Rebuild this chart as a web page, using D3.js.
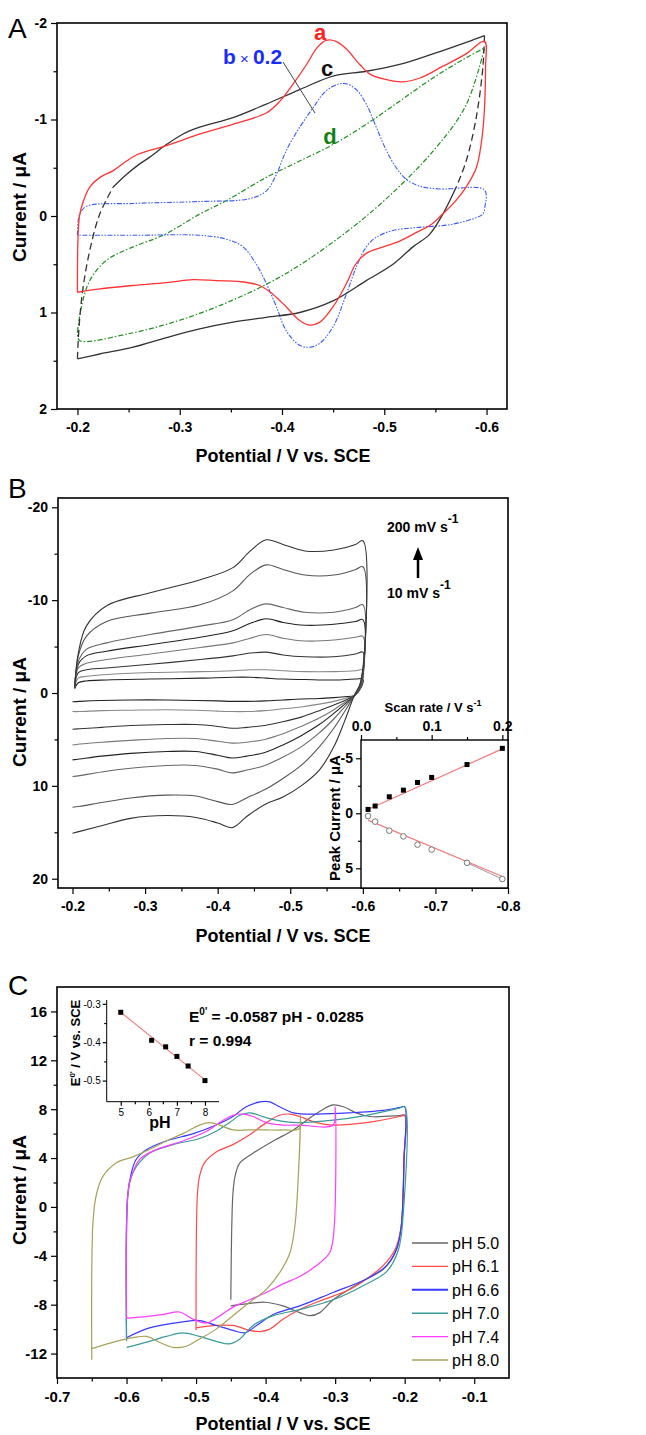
<!DOCTYPE html>
<html>
<head>
<meta charset="utf-8">
<script src="https://cdn.jsdelivr.net/npm/d3@7/dist/d3.min.js"></script>
<style>
  body { margin: 0; background: #fff; }
  svg { font-family: "Liberation Sans", Arial, sans-serif; }
</style>
</head>
<body>
<div id="chart"></div>
<script>
// ---------------- data: panel A (potential V, current uA) ----------------
const curveA = [[-0.2,0.79],[-0.202,0.0],[-0.206,-0.16],[-0.212,-0.3],[-0.222,-0.4],[-0.235,-0.47],[-0.248,-0.57],[-0.259,-0.64],
  [-0.287,-0.73],[-0.32,-0.85],[-0.352,-0.95],[-0.385,-1.07],[-0.398,-1.19],[-0.411,-1.37],[-0.424,-1.57],[-0.434,-1.74],
  [-0.443,-1.82],[-0.453,-1.81],[-0.463,-1.73],[-0.476,-1.57],[-0.486,-1.47],[-0.499,-1.42],[-0.518,-1.39],[-0.535,-1.43],
  [-0.557,-1.55],[-0.58,-1.68],[-0.598,-1.81],[-0.599,-1.54],[-0.596,-0.85],[-0.59,-0.5],[-0.58,-0.3],[-0.57,-0.16],
  [-0.557,-0.02],[-0.547,0.08],[-0.528,0.19],[-0.515,0.26],[-0.499,0.32],[-0.482,0.39],[-0.472,0.5],[-0.463,0.7],
  [-0.45,0.94],[-0.437,1.1],[-0.427,1.13],[-0.417,1.08],[-0.404,0.94],[-0.391,0.81],[-0.378,0.72],[-0.359,0.68],
  [-0.336,0.67],[-0.313,0.66],[-0.287,0.69],[-0.254,0.72],[-0.222,0.755],[-0.2,0.79]];
const curveB = [[-0.2,0.2],[-0.2007,0.05],[-0.2023,-0.02],[-0.2088,-0.1],[-0.2544,-0.13],[-0.3195,-0.15],[-0.3684,-0.18],
  [-0.3847,-0.26],[-0.3945,-0.43],[-0.4042,-0.68],[-0.4173,-0.92],[-0.4303,-1.12],[-0.4433,-1.3],[-0.4564,-1.37],
  [-0.4629,-1.37],[-0.4726,-1.31],[-0.4824,-1.16],[-0.4922,-0.92],[-0.502,-0.68],[-0.5117,-0.5],[-0.5215,-0.38],
  [-0.5345,-0.31],[-0.5541,-0.28],[-0.598,-0.27],[-0.5983,-0.09],[-0.5964,-0.02],[-0.5866,0.03],[-0.5638,0.09],
  [-0.5313,0.12],[-0.5085,0.15],[-0.4922,0.22],[-0.4824,0.32],[-0.4726,0.53],[-0.4629,0.81],[-0.4498,1.15],
  [-0.4368,1.32],[-0.427,1.36],[-0.4173,1.34],[-0.4042,1.19],[-0.3945,0.94],[-0.3847,0.7],[-0.3749,0.5],
  [-0.3619,0.32],[-0.3456,0.24],[-0.3195,0.2],[-0.2544,0.2],[-0.2,0.2]];
const curveC_left = [[-0.2,1.48],[-0.2007,1.3],[-0.2023,1.05],[-0.2055,0.74],[-0.212,0.36],[-0.2218,-0.02],[-0.2349,-0.3]];
const curveC_upper = [[-0.2349,-0.3],[-0.2479,-0.43],[-0.2609,-0.54],[-0.2707,-0.61],[-0.287,-0.74],[-0.3033,-0.85],
  [-0.3195,-0.92],[-0.3521,-1.02],[-0.3847,-1.16],[-0.4173,-1.31],[-0.4498,-1.45],[-0.4824,-1.5],[-0.515,-1.57],
  [-0.5476,-1.68],[-0.5801,-1.8],[-0.598,-1.87]];
const curveC_right = [[-0.598,-1.87],[-0.5964,-1.54],[-0.5899,-1.02],[-0.5801,-0.57],[-0.5704,-0.3]];
const curveC_lower = [[-0.5704,-0.3],[-0.5573,-0.02],[-0.5443,0.19],[-0.528,0.32],[-0.5085,0.5],[-0.4824,0.67],
  [-0.4498,0.88],[-0.4173,1.0],[-0.3847,1.05],[-0.3521,1.1],[-0.3195,1.17],[-0.287,1.26],[-0.2544,1.36],[-0.2218,1.43],[-0.2,1.48]];
const curveD_upper = [[-0.2,1.2],[-0.2039,0.94],[-0.212,0.67],[-0.2283,0.46],[-0.2544,0.32],[-0.2837,0.2],[-0.3195,-0.02],
  [-0.3456,-0.16],[-0.3847,-0.4],[-0.4173,-0.57],[-0.4498,-0.74],[-0.4824,-0.95],[-0.515,-1.19],[-0.5476,-1.43],
  [-0.5801,-1.64],[-0.598,-1.74]];
const curveD_lower = [[-0.598,-1.74],[-0.58,-1.15],[-0.55,-0.7],[-0.5,-0.16],[-0.45,0.27],[-0.4,0.62],[-0.35,0.88],
  [-0.3,1.08],[-0.25,1.22],[-0.202,1.29],[-0.2,1.2]];

// ---------------- data: panel B ----------------
const scanRates = [0.01, 0.02, 0.04, 0.06, 0.08, 0.1, 0.15, 0.2];
const bUpperX = [-0.203,-0.208,-0.219,-0.247,-0.307,-0.376,-0.421,-0.445,-0.467,-0.49,-0.52,-0.56,-0.59,-0.6];
const bLowerX = [-0.597,-0.588,-0.575,-0.56,-0.54,-0.515,-0.49,-0.465,-0.44,-0.42,-0.4,-0.37,-0.33,-0.28,-0.24,-0.21,-0.2];
const bUpperI = [
  [-0.5,-1.1,-1.3,-1.4,-1.5,-1.6,-1.7,-1.7,-1.6,-1.5,-1.45,-1.4,-1.5,-1.5],
  [-0.6,-1.6,-1.8,-2.0,-2.2,-2.3,-2.4,-2.5,-2.5,-2.4,-2.3,-2.3,-2.4,-2.5],
  [-0.6,-2.2,-2.5,-2.7,-3.1,-3.6,-4.0,-4.3,-4.4,-4.1,-3.9,-3.9,-4.2,-4.4],
  [-0.6,-2.7,-3.2,-3.6,-4.2,-4.9,-5.4,-5.9,-6.3,-5.9,-5.6,-5.7,-6.0,-6.1],
  [-0.6,-3.1,-4.0,-4.5,-5.2,-6.0,-6.7,-7.5,-8.0,-7.6,-7.3,-7.4,-7.7,-7.9],
  [-0.6,-3.4,-4.7,-5.4,-6.3,-7.2,-7.9,-9.0,-9.6,-9.2,-8.7,-8.7,-9.2,-9.5],
  [-0.5,-4.0,-6.1,-7.7,-8.6,-9.5,-11.0,-12.8,-13.8,-13.3,-12.7,-12.7,-13.3,-13.6],
  [-0.5,-4.3,-7.2,-9.4,-10.8,-12.2,-13.5,-15.3,-16.5,-16.0,-15.3,-15.4,-16.0,-16.4]];
const bLowerI = [
  [-0.5,0.3,0.4,0.5,0.6,0.65,0.75,0.85,0.9,0.9,0.85,0.8,0.75,0.75,0.8,0.9,0.95],
  [-0.6,0.3,0.6,0.9,1.2,1.5,1.7,1.9,2.0,2.0,1.95,1.85,1.8,1.85,1.9,2.0,2.0],
  [-0.7,0.3,0.8,1.3,1.9,2.6,3.1,3.5,3.7,3.8,3.6,3.4,3.4,3.5,3.7,3.85,3.9],
  [-0.8,0.3,1.0,1.8,2.7,3.6,4.4,5.0,5.3,5.4,5.2,4.9,4.9,5.1,5.3,5.5,5.6],
  [-0.9,0.3,1.2,2.2,3.4,4.6,5.6,6.4,6.8,7.0,6.7,6.3,6.3,6.5,6.8,7.1,7.2],
  [-1.0,0.3,1.5,2.8,4.3,5.8,6.9,7.8,8.3,8.6,8.2,7.8,7.8,8.1,8.5,8.9,9.0],
  [-1.1,0.3,2.0,3.8,5.8,7.8,9.2,10.4,11.3,12.0,11.7,11.1,11.0,11.3,11.8,12.2,12.3],
  [-1.2,0.3,3.0,5.8,8.3,10.0,11.2,12.0,13.3,14.5,14.0,13.4,13.2,13.5,14.3,14.9,15.1]];
const bColors = ["#222","#888","#333","#777","#222","#666","#555","#333"];
const peakAnodic = [-0.35,-0.66,-1.5,-2.1,-2.8,-3.26,-4.43,-5.9];
const peakCathodic = [0.25,0.76,1.58,2.1,2.85,3.3,4.5,5.98];
const fitAnodic = [[0.008,-0.3],[0.2,-5.85]];
const fitCathodic = [[0.01,0.62],[0.2,5.75]];

// ---------------- data: panel C ----------------
const pHLabels = ["pH 5.0","pH 6.1","pH 6.6","pH 7.0","pH 7.4","pH 8.0"];
const pHColors = ["#666666","#ff4a4a","#3a3aff","#3a9a9a","#ff3cff","#a6a25a"];
const cvPH50 = [[-0.45,-8.1],[-0.423,-7.9],[-0.4,-7.8],[-0.375,-8.1],[-0.351,-8.65],[-0.336,-8.9],[-0.322,-8.65],[-0.303,-7.6],
  [-0.28,-6.75],[-0.255,-5.9],[-0.231,-5.1],[-0.212,-3.5],[-0.205,-1.6],[-0.201,3.9],[-0.2,7.5],[-0.207,7.47],[-0.25,7.4],[-0.27,7.7],
  [-0.288,8.2],[-0.303,8.35],[-0.317,8.0],[-0.336,7.3],[-0.36,6.3],[-0.389,5.4],[-0.418,4.4],[-0.437,3.6],[-0.444,2.5],
  [-0.447,1.1],[-0.45,-7.6]];
const cvPH61 = [[-0.5,-9.9],[-0.471,-9.7],[-0.447,-9.7],[-0.423,-10.1],[-0.408,-10.2],[-0.394,-10.0],[-0.375,-9.2],[-0.351,-8.4],
  [-0.327,-7.8],[-0.303,-7.3],[-0.279,-6.75],[-0.255,-5.9],[-0.231,-4.8],[-0.214,-3.5],[-0.205,-1.6],[-0.201,3.9],[-0.2,7.5],
  [-0.207,7.4],[-0.255,6.9],[-0.303,6.7],[-0.327,6.9],[-0.351,7.4],[-0.365,7.6],[-0.38,7.5],[-0.399,6.9],[-0.423,5.9],[-0.447,5.1],
  [-0.471,4.5],[-0.488,3.6],[-0.495,2.5],[-0.498,1.1],[-0.5,-10.1]];
const cvPH66 = [[-0.6,-10.7],[-0.567,-9.9],[-0.519,-9.4],[-0.495,-9.3],[-0.471,-9.7],[-0.447,-10.1],[-0.43,-10.3],[-0.413,-9.7],
  [-0.389,-8.8],[-0.351,-8.1],[-0.303,-7.0],[-0.255,-5.9],[-0.226,-4.8],[-0.212,-3.5],[-0.205,-1.6],[-0.201,3.9],[-0.2,8.2],
  [-0.206,8.15],[-0.231,7.9],[-0.279,7.7],[-0.327,7.6],[-0.36,7.7],[-0.38,8.2],[-0.394,8.6],[-0.408,8.6],[-0.428,8.2],[-0.447,7.4],
  [-0.471,6.7],[-0.504,6.0],[-0.543,5.4],[-0.571,4.7],[-0.586,3.9],[-0.593,2.8],[-0.598,1.1],[-0.6,-10.7]];
const cvPH70 = [[-0.6,-11.5],[-0.567,-11.0],[-0.543,-10.6],[-0.519,-10.3],[-0.495,-10.6],[-0.471,-11.0],[-0.452,-11.2],[-0.437,-10.8],
  [-0.418,-9.7],[-0.389,-8.9],[-0.351,-8.4],[-0.303,-7.6],[-0.255,-6.3],[-0.226,-5.3],[-0.209,-3.5],[-0.202,-0.5],[-0.2,8.2],
  [-0.207,8.1],[-0.255,7.5],[-0.303,7.1],[-0.351,6.9],[-0.375,7.0],[-0.399,7.3],[-0.423,7.7],[-0.437,7.5],[-0.452,6.9],[-0.471,6.2],
  [-0.495,5.6],[-0.533,5.1],[-0.567,4.4],[-0.586,3.3],[-0.595,2.2],[-0.599,0.5],[-0.6,-11.0]];
const cvPH74 = [[-0.6,-9.1],[-0.576,-9.0],[-0.547,-8.8],[-0.524,-8.6],[-0.504,-9.2],[-0.485,-9.5],[-0.471,-9.1],[-0.447,-8.2],
  [-0.423,-7.6],[-0.399,-7.0],[-0.375,-6.3],[-0.351,-5.7],[-0.327,-4.8],[-0.308,-3.75],[-0.302,-2.1],[-0.3,8.2],[-0.303,6.7],
  [-0.351,6.7],[-0.375,6.7],[-0.399,6.9],[-0.418,7.4],[-0.432,7.6],[-0.447,7.5],[-0.461,7.1],[-0.485,6.2],[-0.519,5.4],
  [-0.557,4.7],[-0.581,3.9],[-0.593,2.5],[-0.598,1.1],[-0.6,-9.1]];
const cvPH80 = [[-0.65,-11.6],[-0.615,-11.0],[-0.591,-10.7],[-0.571,-10.6],[-0.552,-11.1],[-0.533,-11.5],[-0.514,-11.4],[-0.495,-10.8],
  [-0.471,-10.0],[-0.447,-8.9],[-0.423,-7.8],[-0.399,-6.75],[-0.38,-5.4],[-0.365,-3.75],[-0.358,-1.6],[-0.353,2.5],[-0.35,7.5],
  [-0.352,6.4],[-0.375,6.3],[-0.399,6.3],[-0.423,6.3],[-0.447,6.3],[-0.466,6.7],[-0.48,6.9],[-0.495,6.7],[-0.519,6.0],
  [-0.543,5.4],[-0.567,4.7],[-0.591,4.1],[-0.615,3.6],[-0.634,2.5],[-0.643,1.1],[-0.648,-1.0],[-0.65,-12.5]];
const cvCurves = [cvPH50, cvPH61, cvPH66, cvPH70, cvPH74, cvPH80];
const pHValues = [5.0, 6.1, 6.6, 7.0, 7.4, 8.0];
const formalPotential = [-0.322,-0.395,-0.412,-0.437,-0.462,-0.5];
const fitSlope = -0.0587, fitIntercept = -0.0285;

// ---------------- drawing ----------------
const svg = d3.select("#chart").append("svg")
    .attr("width", 646).attr("height", 1435);

const fmt1 = d => d.toFixed(1);
const fmt0 = d => String(d);

function cleanAxis(g) {
    g.select(".domain").remove();
    g.selectAll(".tick line").attr("stroke", "#000").attr("stroke-width", 1.2);
}

// frame + major/minor ticks for a panel
function drawAxes(x, y, o) {
    const xr = x.range(), yr = y.range();
    const left = Math.min(...xr), right = Math.max(...xr);
    const top = Math.min(...yr), bottom = Math.max(...yr);
    const fs = o.font || 14;

    svg.append("g").attr("transform", `translate(0,${bottom})`)
        .call(d3.axisBottom(x).tickValues(o.xMinor).tickSize(3.5).tickFormat(""))
        .call(cleanAxis);
    svg.append("g").attr("transform", `translate(0,${bottom})`)
        .call(d3.axisBottom(x).tickValues(o.xMajor).tickSize(6).tickPadding(7).tickFormat(o.xFmt))
        .call(cleanAxis)
        .selectAll("text").attr("font-size", fs).attr("font-weight", "bold").attr("fill", "#000")
        .attr("font-family", "Liberation Sans, Arial, sans-serif");

    svg.append("g").attr("transform", `translate(${left},0)`)
        .call(d3.axisLeft(y).tickValues(o.yMinor).tickSize(3.5).tickFormat(""))
        .call(cleanAxis);
    svg.append("g").attr("transform", `translate(${left},0)`)
        .call(d3.axisLeft(y).tickValues(o.yMajor).tickSize(6).tickPadding(4).tickFormat(o.yFmt))
        .call(cleanAxis)
        .selectAll("text").attr("font-size", fs).attr("font-weight", "bold").attr("fill", "#000")
        .attr("font-family", "Liberation Sans, Arial, sans-serif");

    svg.append("rect")
        .attr("x", left).attr("y", top)
        .attr("width", right - left).attr("height", bottom - top)
        .attr("fill", "none").attr("stroke", "#000").attr("stroke-width", 1.6);
}

function axisTitles(xLabel, xPos, yLabel, yPos) {
    svg.append("text")
        .attr("x", xPos[0]).attr("y", xPos[1])
        .attr("text-anchor", "middle")
        .attr("font-size", 18).attr("font-weight", "bold")
        .text(xLabel);
    svg.append("text")
        .attr("transform", `translate(${yPos[0]},${yPos[1]}) rotate(-90)`)
        .attr("text-anchor", "middle")
        .attr("font-size", 19).attr("font-weight", "bold")
        .text(yLabel);
}

function panelLetter(t, x, y) {
    svg.append("text").attr("x", x).attr("y", y)
        .attr("font-size", 28).attr("fill", "#000").text(t);
}

const smooth = d3.curveCatmullRom.alpha(0.5);

// ======== Panel A ========
const xA = d3.scaleLinear().domain([-0.18, -0.62]).range([57, 507]);
const yA = d3.scaleLinear().domain([-2, 2]).range([23, 409]);
const lineA = d3.line().x(d => xA(d[0])).y(d => yA(d[1])).curve(smooth);

drawAxes(xA, yA, {
    xMajor: [-0.2, -0.3, -0.4, -0.5, -0.6], xMinor: [-0.25, -0.35, -0.45, -0.55], xFmt: fmt1,
    yMajor: [-2, -1, 0, 1, 2], yMinor: [-1.5, -0.5, 0.5, 1.5], yFmt: fmt0
});

const gA = svg.append("g").attr("fill", "none");
gA.append("path").attr("d", lineA(curveD_upper.concat(curveD_lower)))
    .attr("stroke", "#1f8f1f").attr("stroke-width", 1.2).attr("stroke-dasharray", "5,2,1.5,2");
gA.append("path").attr("d", lineA(curveB))
    .attr("stroke", "#3a5cff").attr("stroke-width", 1.1).attr("stroke-dasharray", "5,1.5,1.5,1.5,1.5,1.5");
gA.append("path").attr("d", lineA(curveC_upper)).attr("stroke", "#333").attr("stroke-width", 1.3);
gA.append("path").attr("d", lineA(curveC_lower)).attr("stroke", "#333").attr("stroke-width", 1.3);
gA.append("path").attr("d", lineA(curveC_left)).attr("stroke", "#333").attr("stroke-width", 1.3).attr("stroke-dasharray", "7,4");
gA.append("path").attr("d", lineA(curveC_right)).attr("stroke", "#333").attr("stroke-width", 1.3).attr("stroke-dasharray", "7,4");
gA.append("path").attr("d", lineA(curveA)).attr("stroke", "#ff3333").attr("stroke-width", 1.3);

// labels a, b x 0.2, c, d
svg.append("text").attr("x", 320).attr("y", 40).attr("text-anchor", "middle")
    .attr("font-size", 22).attr("font-weight", "bold").attr("fill", "#ff2020").text("a");
const bLab = svg.append("text").attr("x", 223).attr("y", 64).attr("fill", "#1a2cff")
    .attr("font-size", 21).attr("font-weight", "bold");
bLab.append("tspan").text("b");
bLab.append("tspan").attr("font-weight", "normal").attr("font-size", 15).text(" \u00d7 ");
bLab.append("tspan").text("0.2");
svg.append("text").attr("x", 327).attr("y", 76).attr("text-anchor", "middle")
    .attr("font-size", 22).attr("font-weight", "bold").attr("fill", "#111").text("c");
svg.append("text").attr("x", 330).attr("y", 144).attr("text-anchor", "middle")
    .attr("font-size", 22).attr("font-weight", "bold").attr("fill", "#138013").text("d");
svg.append("line").attr("x1", 283).attr("y1", 62).attr("x2", 315).attr("y2", 113)
    .attr("stroke", "#444").attr("stroke-width", 1);

panelLetter("A", 8, 38);
axisTitles("Potential / V vs. SCE", [283, 462], "Current / \u03bcA", [26, 207]);

// ======== Panel B ========
const xB = d3.scaleLinear().domain([-0.18, -0.8]).range([58, 508]);
const yB = d3.scaleLinear().domain([-21, 21]).range([498, 888]);
const lineB = d3.line().x(d => xB(d[0])).y(d => yB(d[1])).curve(smooth);

drawAxes(xB, yB, {
    xMajor: [-0.2, -0.3, -0.4, -0.5, -0.6, -0.7, -0.8], xMinor: [-0.25, -0.35, -0.45, -0.55, -0.65, -0.75], xFmt: fmt1,
    yMajor: [-20, -10, 0, 10, 20], yMinor: [-15, -5, 5, 15], yFmt: fmt0
});

const gB = svg.append("g").attr("fill", "none");
scanRates.forEach((r, i) => {
    const lower = bLowerX.map((x, j) => [x, bLowerI[i][j]]);
    const upper = bUpperX.map((x, j) => [x, bUpperI[i][j]]);
    gB.append("path")
        .attr("d", lineB(upper.concat(lower)))
        .attr("stroke", bColors[i]).attr("stroke-width", 1.1);
});

// scan-rate annotation
const t200 = svg.append("text").attr("x", 387).attr("y", 532).attr("font-size", 14).attr("font-weight", "bold");
t200.append("tspan").text("200 mV s");
t200.append("tspan").attr("dy", -9).attr("font-size", 12).text("-1");
const t10 = svg.append("text").attr("x", 387).attr("y", 598).attr("font-size", 14).attr("font-weight", "bold");
t10.append("tspan").text("10 mV s");
t10.append("tspan").attr("dy", -9).attr("font-size", 12).text("-1");
svg.append("line").attr("x1", 418).attr("y1", 578).attr("x2", 418).attr("y2", 558)
    .attr("stroke", "#000").attr("stroke-width", 2.5);
svg.append("path").attr("d", "M413,560 L418,547 L423,560 Z").attr("fill", "#000");

// inset: peak current vs scan rate
const xBi = d3.scaleLinear().domain([0, 0.208]).range([361, 508]);
const yBi = d3.scaleLinear().domain([-6.66, 6.79]).range([740, 888]);
svg.append("rect").attr("x", 361).attr("y", 740).attr("width", 147).attr("height", 148)
    .attr("fill", "#fff").attr("stroke", "#000").attr("stroke-width", 1.4);
svg.append("g").attr("transform", "translate(0,740)")
    .call(d3.axisTop(xBi).tickValues([0.05, 0.15]).tickSize(3).tickFormat(""))
    .call(cleanAxis);
svg.append("g").attr("transform", "translate(0,740)")
    .call(d3.axisTop(xBi).tickValues([0, 0.1, 0.2]).tickSize(5).tickPadding(4).tickFormat(fmt1))
    .call(cleanAxis)
    .selectAll("text").attr("font-size", 14).attr("font-weight", "bold").attr("fill", "#000");
svg.append("g").attr("transform", "translate(361,0)")
    .call(d3.axisLeft(yBi).tickValues([-2.5, 2.5]).tickSize(3).tickFormat(""))
    .call(cleanAxis);
svg.append("g").attr("transform", "translate(361,0)")
    .call(d3.axisLeft(yBi).tickValues([-5, 0, 5]).tickSize(5).tickPadding(3).tickFormat(fmt0))
    .call(cleanAxis)
    .selectAll("text").attr("font-size", 14).attr("font-weight", "bold").attr("fill", "#000");

const lineBi = d3.line().x(d => xBi(d[0])).y(d => yBi(d[1]));
svg.append("path").attr("d", lineBi(fitAnodic)).attr("stroke", "#f27a7a").attr("stroke-width", 1.2).attr("fill", "none");
svg.append("path").attr("d", lineBi(fitCathodic)).attr("stroke", "#f27a7a").attr("stroke-width", 1.2).attr("fill", "none");
svg.append("path").attr("d", lineBi([[scanRates[6], peakCathodic[6]], [scanRates[7], peakCathodic[7]]]))
    .attr("stroke", "#999").attr("stroke-width", 1).attr("fill", "none");
svg.append("g").selectAll("rect").data(scanRates).join("rect")
    .attr("x", d => xBi(d) - 2.5).attr("y", (d, i) => yBi(peakAnodic[i]) - 2.5)
    .attr("width", 5).attr("height", 5).attr("fill", "#000");
svg.append("g").selectAll("circle").data(scanRates).join("circle")
    .attr("cx", d => xBi(d)).attr("cy", (d, i) => yBi(peakCathodic[i])).attr("r", 2.8)
    .attr("fill", "#fff").attr("stroke", "#777").attr("stroke-width", 1);

const scanT = svg.append("text").attr("x", 433).attr("y", 712).attr("text-anchor", "middle")
    .attr("font-size", 13).attr("font-weight", "bold");
scanT.append("tspan").text("Scan rate / V s");
scanT.append("tspan").attr("dy", -6).attr("font-size", 9).text("-1");
svg.append("text").attr("transform", "translate(340,818) rotate(-90)").attr("text-anchor", "middle")
    .attr("font-size", 15).attr("font-weight", "bold").text("Peak Current / \u03bcA");

panelLetter("B", 8, 498);
axisTitles("Potential / V vs. SCE", [283, 942], "Current / \u03bcA", [26, 712]);

// ======== Panel C ========
const xC = d3.scaleLinear().domain([-0.7, -0.05]).range([57, 509]);
const yC = d3.scaleLinear().domain([-14, 18]).range([1378, 987]);
const lineC = d3.line().x(d => xC(d[0])).y(d => yC(d[1])).curve(smooth);

drawAxes(xC, yC, {
    xMajor: [-0.7, -0.6, -0.5, -0.4, -0.3, -0.2, -0.1], xMinor: [-0.65, -0.55, -0.45, -0.35, -0.25, -0.15], xFmt: fmt1,
    yMajor: [-12, -8, -4, 0, 4, 8, 12, 16], yMinor: [-10, -6, -2, 2, 6, 10, 14], yFmt: fmt0, font: 15
});

const gC = svg.append("g").attr("fill", "none");
cvCurves.forEach((c, i) => {
    gC.append("path").attr("d", lineC(c))
        .attr("stroke", pHColors[i]).attr("stroke-width", 1.2);
});

// legend
const leg = svg.append("g");
pHLabels.forEach((t, i) => {
    const yy = 1243 + i * 23.4;
    leg.append("line").attr("x1", 412).attr("x2", 448).attr("y1", yy).attr("y2", yy)
        .attr("stroke", pHColors[i]).attr("stroke-width", i === 2 ? 2 : 1.4);
    leg.append("text").attr("x", 452).attr("y", yy + 6).attr("font-size", 16).text(t);
});

// inset: formal potential vs pH
const xCi = d3.scaleLinear().domain([4.5, 8.5]).range([106.7, 219]);
const yCi = d3.scaleLinear().domain([-0.555, -0.29]).range([1101.7, 1000]);
svg.append("g").attr("transform", "translate(0,1101.7)")
    .call(d3.axisBottom(xCi).tickValues([5.5, 6.5, 7.5]).tickSize(2.5).tickFormat(""))
    .call(cleanAxis);
svg.append("g").attr("transform", "translate(0,1101.7)")
    .call(d3.axisBottom(xCi).tickValues([5, 6, 7, 8]).tickSize(4).tickPadding(3).tickFormat(fmt0))
    .call(cleanAxis)
    .selectAll("text").attr("font-size", 10).attr("fill", "#000");
svg.append("g").attr("transform", "translate(106.7,0)")
    .call(d3.axisLeft(yCi).tickValues([-0.35, -0.45]).tickSize(2.5).tickFormat(""))
    .call(cleanAxis);
svg.append("g").attr("transform", "translate(106.7,0)")
    .call(d3.axisLeft(yCi).tickValues([-0.3, -0.4, -0.5]).tickSize(4).tickPadding(2).tickFormat(fmt1))
    .call(cleanAxis)
    .selectAll("text").attr("font-size", 10).attr("fill", "#000");
svg.append("path")
    .attr("d", `M${xCi(4.5)},1101.7 H219 M106.7,1101.7 V1000`)
    .attr("stroke", "#000").attr("stroke-width", 1).attr("fill", "none");
svg.append("line")
    .attr("x1", xCi(5)).attr("y1", yCi(fitSlope * 5 + fitIntercept))
    .attr("x2", xCi(8)).attr("y2", yCi(fitSlope * 8 + fitIntercept))
    .attr("stroke", "#f27a7a").attr("stroke-width", 1.1);
svg.append("g").selectAll("rect").data(pHValues).join("rect")
    .attr("x", d => xCi(d) - 2.5).attr("y", (d, i) => yCi(formalPotential[i]) - 2.5)
    .attr("width", 5).attr("height", 5).attr("fill", "#000");

svg.append("text").attr("x", 160).attr("y", 1128).attr("text-anchor", "middle")
    .attr("font-size", 16).attr("font-weight", "bold").text("pH");
const eT = svg.append("text").attr("transform", "translate(80,1043) rotate(-90)").attr("text-anchor", "middle")
    .attr("font-size", 13).attr("font-weight", "bold");
eT.append("tspan").text("E");
eT.append("tspan").attr("dy", -5).attr("font-size", 8).text("0'");
eT.append("tspan").attr("dy", 5).text(" / V vs. SCE");

const eq = svg.append("text").attr("x", 189).attr("y", 1022).attr("font-size", 15.5).attr("font-weight", "bold");
eq.append("tspan").text("E");
eq.append("tspan").attr("dy", -7).attr("font-size", 10).text("0'");
eq.append("tspan").attr("dy", 7).text(" = -0.0587 pH - 0.0285");
svg.append("text").attr("x", 189).attr("y", 1046).attr("font-size", 15.5).attr("font-weight", "bold").text("r = 0.994");

panelLetter("C", 8, 995);
axisTitles("Potential / V vs. SCE", [283, 1430], "Current / \u03bcA", [26, 1190]);
</script>
</body>
</html>
